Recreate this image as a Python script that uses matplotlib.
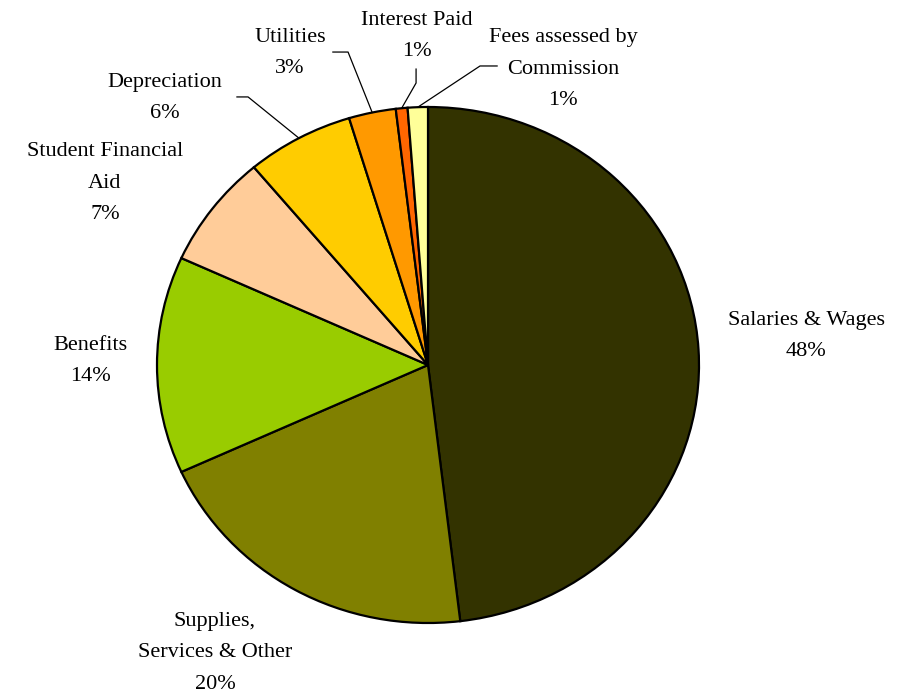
import numpy as np
import matplotlib
matplotlib.use('Agg')
import matplotlib.pyplot as plt

# expense categories and shares (percent)
labels = ['Salaries & Wages', 'Supplies,\nServices & Other', 'Benefits',
          'Student Financial\nAid', 'Depreciation', 'Utilities',
          'Interest Paid', 'Fees assessed by\nCommission']
values = [48.1, 20.1, 13.6, 7.1, 6.4, 2.8, 0.7, 1.2]
pct_text = ['48%', '20%', '14%', '7%', '6%', '3%', '1%', '1%']
colors = ['#333300', '#808000', '#99CC00', '#FFCC99', '#FFCC00',
          '#FF9900', '#FF6600', '#FFFF99']

# label centres (data units, pie radius = 1)
label_pos = [(1.395, 0.112), (-0.786, -1.116), (-1.247, 0.016), (-1.192, 0.705),
             (-0.970, 1.035), (-0.509, 1.209), (-0.041, 1.275), (0.498, 1.147)]
# leader lines: elbow point and end point near the label, or None
leaders = [None, None, None, None,
           ((-0.664, 1.039), (-0.705, 1.039)),
           ((-0.295, 1.213), (-0.351, 1.213)),
           ((-0.044, 1.093), (-0.044, 1.147)),
           ((0.192, 1.159), (0.255, 1.159))]

plt.rcParams['font.family'] = ['Liberation Serif', 'DejaVu Serif']

fig = plt.figure(figsize=(9.04, 6.98), dpi=100)
ax = fig.add_axes([0, 0, 1, 1])
wedges, _ = ax.pie(values, colors=colors, startangle=90, counterclock=False,
                   wedgeprops=dict(edgecolor='black', linewidth=1.6))
ax.set_aspect('auto')
# slightly wider than tall, like the original
ax.set_xlim(-428 / 271, 476 / 271)
ax.set_ylim(-333 / 258, 365 / 258)
ax.axis('off')

for i, (lab, pct) in enumerate(zip(labels, pct_text)):
    x, y = label_pos[i]
    ax.text(x, y, lab + '\n' + pct, ha='center', va='center', fontsize=16,
            linespacing=1.9, color='black')
    if leaders[i] is not None:
        w = wedges[i]
        mid = np.deg2rad((w.theta1 + w.theta2) / 2)
        ex, ey = np.cos(mid), np.sin(mid)
        (bx, by), (cx, cy) = leaders[i]
        ax.plot([ex, bx, cx], [ey, by, cy], color='black', lw=0.9)

fig.savefig('out.png', dpi=100)
